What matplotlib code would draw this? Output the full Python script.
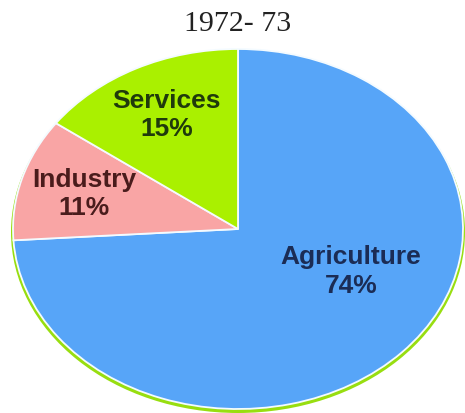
import matplotlib
matplotlib.use("Agg")
import matplotlib.pyplot as plt
from matplotlib.patches import Ellipse

# Sector shares of GDP, 1972-73
sectors = ["Agriculture", "Industry", "Services"]
shares = [74, 11, 15]
title = "1972- 73"

colors = ["#57a5f8", "#f9a5a5", "#aaf000"]
text_colors = ["#1b2c55", "#4a1c1c", "#1f3a0c"]
# label centres in axis units of the (unit-radius) pie
label_pos = [(0.502, -0.231), (-0.684, 0.20), (-0.316, 0.639)]

W, H, DPI = 465, 414, 100
fig = plt.figure(figsize=(W / DPI, H / DPI), dpi=DPI)
ax = fig.add_axes([0, 0, 1, 1])

# pie centre and radii in pixels, used to map the unit pie to an ellipse
cx, cy, rx, ry = 238.0, 230.0, 225.0, 180.0

# green rim under the pie
rim = Ellipse((0, -3.0 / ry), 2 * 227.0 / rx, 2 * 181.0 / ry,
              facecolor="#98de10", edgecolor="none", zorder=0)
ax.add_patch(rim)

ax.pie(shares, colors=colors, startangle=90, counterclock=False,
       radius=1.0, wedgeprops=dict(edgecolor="#f4fbff", linewidth=1.3),
       frame=False)
for p in ax.patches:
    if p is not rim:
        p.set_zorder(1)

ax.set_aspect("auto")
ax.set_xlim(-cx / rx, (W - cx) / rx)
ax.set_ylim((cy - H) / ry, cy / ry)
ax.axis("off")

for name, val, (u, v), tc in zip(sectors, shares, label_pos, text_colors):
    ax.text(u, v, f"{name}\n{val}%", ha="center", va="center",
            fontsize=19, fontweight="bold", color=tc,
            family="Liberation Sans", linespacing=1.22, zorder=3)

fig.text(238 / W, 1 - 24 / H, title, ha="center", va="center",
         fontsize=21.5, family="Liberation Serif", color="#222222")

fig.savefig("out.png", dpi=DPI, facecolor="white")
